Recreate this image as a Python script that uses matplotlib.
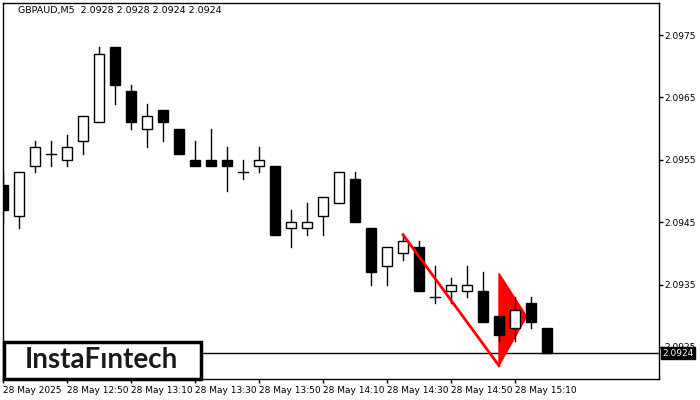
import numpy as np
import matplotlib
matplotlib.use("Agg")
from matplotlib import pyplot as plt
from matplotlib.patches import Rectangle, Polygon
import matplotlib.transforms as mtransforms

#GBPAUD M5 candles, 12:30 to 15:20 (one bar every 5 min)
opens  = [2.0951, 2.0946, 2.0954, 2.0956, 2.0955, 2.0958, 2.0961, 2.0973, 2.0966, 2.0960,
          2.0963, 2.0960, 2.0955, 2.0955, 2.0955, 2.0953, 2.0954, 2.0954, 2.0944, 2.0944,
          2.0946, 2.0948, 2.0952, 2.0944, 2.0938, 2.0940, 2.0941, 2.0933, 2.0934, 2.0934,
          2.0934, 2.0930, 2.0928, 2.0932, 2.0928]
highs  = [2.0953, 2.0953, 2.0958, 2.0958, 2.0959, 2.0962, 2.0973, 2.0973, 2.0967, 2.0964,
          2.0963, 2.0960, 2.0958, 2.0960, 2.0957, 2.0955, 2.0957, 2.0954, 2.0947, 2.0948,
          2.0949, 2.0953, 2.0953, 2.0944, 2.0941, 2.0943, 2.0942, 2.0938, 2.0936, 2.0938,
          2.0937, 2.0930, 2.0933, 2.0933, 2.0928]
lows   = [2.0945, 2.0944, 2.0953, 2.0954, 2.0954, 2.0956, 2.0961, 2.0964, 2.0960, 2.0957,
          2.0958, 2.0956, 2.0954, 2.0954, 2.0950, 2.0952, 2.0953, 2.0943, 2.0941, 2.0943,
          2.0943, 2.0948, 2.0945, 2.0935, 2.0935, 2.0939, 2.0934, 2.0932, 2.0932, 2.0933,
          2.0929, 2.0926, 2.0926, 2.0928, 2.0924]
closes = [2.0947, 2.0953, 2.0957, 2.0956, 2.0957, 2.0962, 2.0972, 2.0967, 2.0961, 2.0962,
          2.0961, 2.0956, 2.0954, 2.0954, 2.0954, 2.0953, 2.0955, 2.0943, 2.0945, 2.0945,
          2.0949, 2.0953, 2.0945, 2.0937, 2.0941, 2.0942, 2.0934, 2.0933, 2.0935, 2.0935,
          2.0929, 2.0927, 2.0931, 2.0929, 2.0924]

#time axis labels, every 4th bar
tick_bars = [0, 4, 8, 12, 16, 20, 24, 28, 32]
tick_labels = ['28 May 2025', '28 May 12:50', '28 May 13:10', '28 May 13:30',
               '28 May 13:50', '28 May 14:10', '28 May 14:30', '28 May 14:50', '28 May 15:10']
price_ticks = [2.0925, 2.0935, 2.0945, 2.0955, 2.0965, 2.0975]

#bearish pennant: pole and flag
pole_x = [25.0, 31.0]
pole_y = [2.0943, 2.0922]
flag_x = [31.0, 32.73, 31.0]
flag_y = [2.09368, 2.09299, 2.0922]

last_price = 2.0924
title = 'GBPAUD,M5  2.0928 2.0928 2.0924 2.0924'

fig = plt.figure(figsize=(7, 4), dpi=100)
ax = fig.add_axes([2.5/700, 21/400, 656.5/700, 376/400])

w = 0.65
for i in range(len(opens)):
    o, h, l, c = opens[i], highs[i], lows[i], closes[i]
    top = max(o, c)
    bot = min(o, c)
    if h > top:
        ax.plot([i, i], [top, h], color='black', lw=1, zorder=3)
    if l < bot:
        ax.plot([i, i], [l, bot], color='black', lw=1, zorder=3)
    if top == bot:
        ax.plot([i - w/2, i + w/2], [o, o], color='black', lw=1, zorder=3)
    else:
        face = 'white' if c > o else 'black'
        ax.add_patch(Rectangle((i - w/2, bot), w, top - bot, facecolor=face,
                               edgecolor='black', lw=1, zorder=4))

#pennant drawing
ax.add_patch(Polygon(list(zip(flag_x, flag_y)), closed=True, facecolor='red',
                     edgecolor='red', lw=1, zorder=2))
ax.plot(pole_x, pole_y, color='red', lw=2, zorder=5)

#current price line
ax.axhline(last_price, color='black', lw=1, zorder=1)

ax.set_xlim(-0.03, 41.0)
ax.set_ylim(2.091987, 2.098013)

ax.yaxis.tick_right()
ax.set_yticks(price_ticks)
ax.set_yticklabels(['%.4f' % p for p in price_ticks])
ax.set_xticks(tick_bars)
ax.set_xticklabels(tick_labels, ha='left')
ax.tick_params(axis='both', labelsize=6.5, length=3, width=1, color='black', pad=2)
ax.tick_params(axis='y', pad=1)
for s in ax.spines.values():
    s.set_linewidth(1)

#price box on the right
trans = mtransforms.blended_transform_factory(ax.transAxes, ax.transData)
ax.text(1.005, last_price, '%.4f' % last_price, transform=trans, fontsize=6.5,
        color='white', va='center', ha='left', zorder=10, clip_on=False,
        bbox=dict(boxstyle='square,pad=0.15', facecolor='black', edgecolor='black'))

fig.text(18/700, 1 - 11/400, title, fontsize=6.8, va='center', ha='left')

#logo box bottom left
logo = Rectangle((3.5/700, 21/400), 197/700, 37/400, transform=fig.transFigure,
                 facecolor='white', edgecolor='black', lw=2.5, zorder=20)
fig.patches.append(logo)
fig.text(101/700, 1 - 360/400, 'InstaF\u0131ntech', fontsize=20, family='Lato',
         fontweight='bold', color='#1a1a1a', ha='center', va='center', zorder=21)

plt.savefig('out.png', dpi=100)
